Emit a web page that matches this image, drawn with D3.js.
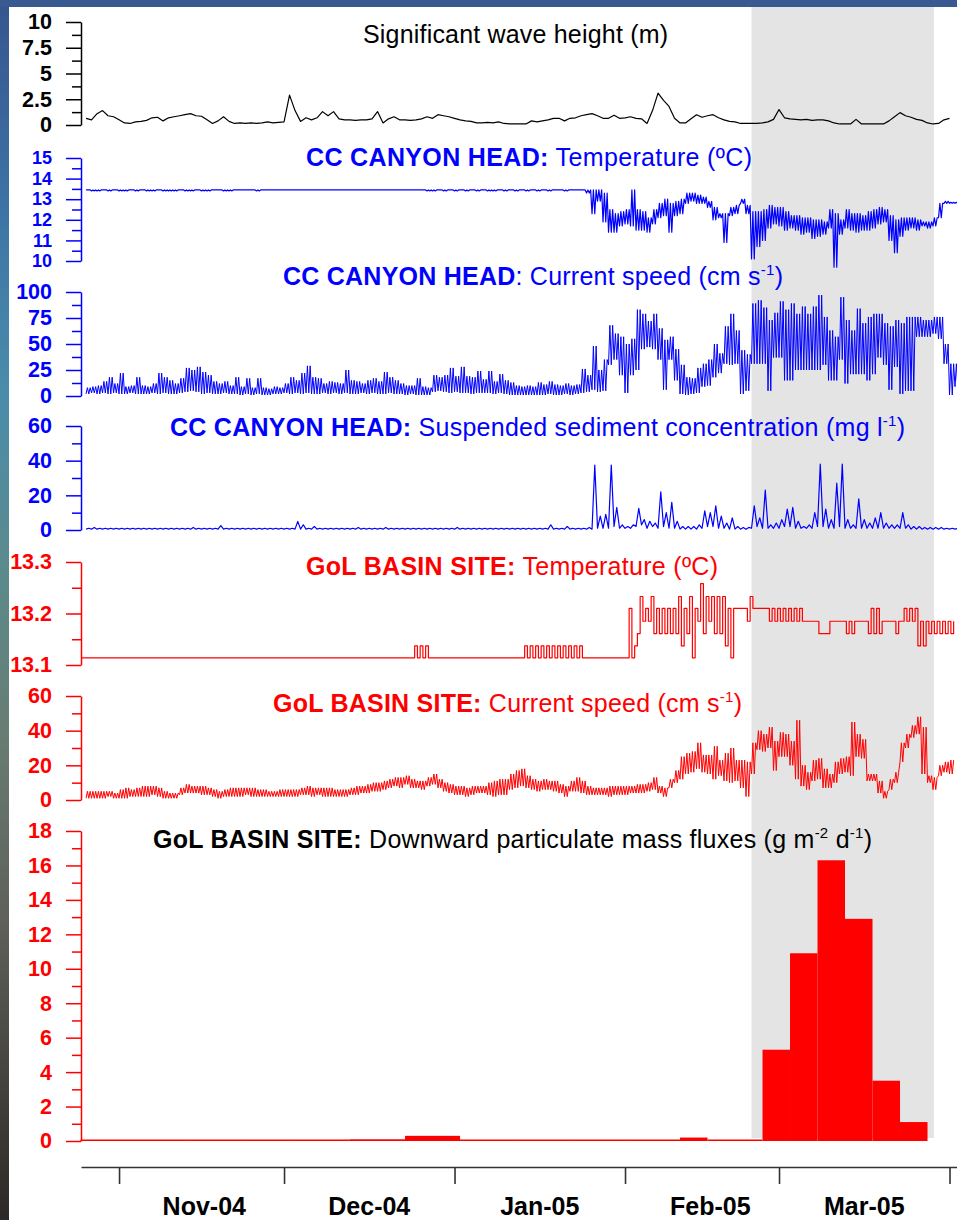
<!DOCTYPE html>
<html><head><meta charset="utf-8">
<script src="https://cdn.jsdelivr.net/npm/d3@7"></script>
<style>html,body{margin:0;padding:0;background:#fff;}svg{display:block;}</style>
</head><body>
<svg id="chart" width="957" height="1220"></svg>
<script>
// ---------------- DATA ----------------
const seriesStart = "2004-10-26T00:00:00Z";     // first daily sample
const golTempStart = "2004-10-25T06:00:00Z";

// Significant wave height (m), daily
const waveHeight = [0.65,0.5,1.1,1.4,0.9,0.8,
0.5,0.2,0.15,0.3,0.35,0.45,0.7,0.75,0.4,0.7,
0.8,0.9,1.0,1.1,0.9,0.85,0.5,0.15,0.4,0.8,
0.35,0.15,0.2,0.15,0.2,0.15,0.2,0.3,0.2,0.25,
0.3,2.9,1.4,0.35,0.7,0.5,0.7,1.3,0.9,1.3,
0.6,0.5,0.5,0.45,0.5,0.5,0.6,1.3,0.2,0.6,
0.8,0.5,0.5,0.45,0.5,0.6,0.8,0.65,1.0,0.9,
0.8,0.65,0.5,0.4,0.35,0.2,0.2,0.25,0.2,0.3,
0.15,0.1,0.1,0.1,0.1,0.4,0.3,0.4,0.5,0.65,
0.65,0.4,0.65,0.7,0.9,1.0,1.1,0.9,0.65,0.65,
0.95,0.65,0.7,0.8,0.65,0.6,0.15,1.4,3.1,2.4,
1.8,0.65,0.2,0.2,0.6,1.0,0.75,0.9,1.0,0.7,
0.5,0.35,0.3,0.15,0.15,0.15,0.15,0.2,0.3,0.55,
1.5,0.7,0.6,0.55,0.5,0.55,0.45,0.5,0.5,0.4,
0.2,0.1,0.1,0.1,0.55,0.1,0.1,0.1,0.1,0.1,
0.4,0.8,1.2,0.9,0.75,0.55,0.45,0.2,0.1,0.15,
0.5,0.65];

// CC canyon head temperature (ºC), daily low / high
const ccTempLo = [13.45,13.4,13.4,13.45,13.4,13.45,13.4,13.4,13.45,13.4,
13.45,13.4,13.4,13.45,13.4,13.4,13.4,13.45,13.4,13.4,
13.45,13.4,13.4,13.45,13.45,13.4,13.4,13.45,13.45,13.45,
13.45,13.4,13.45,13.45,13.45,13.45,13.45,13.45,13.45,13.45,
13.45,13.45,13.45,13.45,13.45,13.45,13.45,13.45,13.45,13.45,
13.45,13.45,13.45,13.45,13.45,13.45,13.45,13.45,13.45,13.45,
13.45,13.45,13.4,13.4,13.45,13.4,13.45,13.4,13.45,13.4,
13.45,13.4,13.45,13.4,13.4,13.45,13.4,13.45,13.4,13.45,
13.4,13.45,13.4,13.45,13.4,13.45,13.45,13.4,13.45,13.45,
13.45,
13.3,12.3,12.9,11.9,11.4,11.4,11.7,11.8,11.7,11.5,
11.5,11.4,11.8,12.1,12.2,11.4,12.2,12.3,12.8,12.9,
12.8,12.8,12.6,12.0,12.1,10.9,12.2,12.3,12.8,12.3,
10.1,10.7,11.0,11.6,11.8,11.7,11.5,11.6,11.5,11.3,
11.4,11.1,11.2,11.3,11.6,9.7,11.3,11.6,11.5,11.4,
11.5,11.5,11.6,11.8,11.9,11.0,10.4,11.2,11.5,11.6,
11.5,11.7,11.6,11.7,12.1,12.8,12.8,12.8];
const ccTempHi = [13.45,13.45,13.45,13.45,13.45,13.45,13.45,13.45,13.45,13.45,
13.45,13.45,13.45,13.45,13.45,13.45,13.45,13.45,13.45,13.45,
13.45,13.45,13.45,13.45,13.45,13.45,13.45,13.45,13.45,13.45,
13.45,13.45,13.45,13.45,13.45,13.45,13.45,13.45,13.45,13.45,
13.45,13.45,13.45,13.45,13.45,13.45,13.45,13.45,13.45,13.45,
13.45,13.45,13.45,13.45,13.45,13.45,13.45,13.45,13.45,13.45,
13.45,13.45,13.45,13.45,13.45,13.45,13.45,13.45,13.45,13.45,
13.45,13.45,13.45,13.45,13.45,13.45,13.45,13.45,13.45,13.45,
13.45,13.45,13.45,13.45,13.45,13.45,13.45,13.45,13.45,13.45,
13.45,
13.45,13.45,13.45,13.3,12.5,12.3,12.4,12.5,13.45,12.5,
12.4,12.1,12.5,12.8,13.0,12.8,12.9,13.0,13.3,13.3,
13.2,13.1,12.9,12.6,12.3,12.3,12.6,12.7,13.0,12.7,
12.4,12.4,12.5,12.7,12.6,12.6,12.4,12.2,12.2,12.1,
12.1,12.0,12.0,11.9,12.5,12.3,12.0,12.5,12.3,12.3,
12.2,12.4,12.5,12.6,12.5,12.2,12.0,12.1,12.1,12.1,
12.0,11.9,11.9,12.1,12.8,12.9,12.85,12.85];

// CC canyon head current speed (cm/s), daily low / high
const ccSpeedLo = [2,3,2,3,2,3,2,2,3,2,
2,2,3,2,3,2,2,3,4,5,
4,2,3,2,2,3,2,2,1,2,
1,2,1,1,2,2,3,2,3,2,
3,2,2,3,2,3,2,3,2,2,
3,2,3,2,2,3,2,2,1,2,
1,1,1,4,5,4,3,4,3,3,
2,3,3,3,2,3,2,1,1,1,
1,1,1,1,2,1,1,2,1,2,
3,4,6,4,5,30,35,20,3,20,
25,45,47,45,35,6,35,15,2,1,
2,3,9,10,18,22,31,30,31,2,
5,31,31,31,5,37,37,15,15,25,
25,25,25,25,30,15,15,35,12,21,
21,21,15,21,37,30,6,28,2,5,
5,57,57,57,60,55,31,1,9];
const ccSpeedHi = [8,9,10,14,18,12,22,9,10,18,
10,9,12,22,18,15,12,17,27,25,
28,23,20,14,12,14,10,18,9,17,
8,17,8,7,9,8,12,18,15,22,
29,18,17,12,14,13,12,25,15,14,
12,15,17,14,23,18,15,12,10,10,
17,9,8,20,18,20,27,19,28,19,
18,24,16,24,14,21,15,13,10,9,
10,9,13,11,14,11,10,12,10,11,
26,20,48,25,35,68,60,57,50,55,
83,79,72,79,65,54,57,45,30,18,
17,27,31,35,50,41,67,79,63,44,
40,89,92,85,73,80,91,83,89,79,
86,79,86,97,76,63,57,95,73,63,
84,70,76,79,79,70,67,73,70,76,
76,76,73,73,76,76,50,31,31];

// CC canyon head suspended sediment concentration (mg/l), daily low / high
const sscLo = [0.5,0.5,0.5,0.5,0.5,0.5,0.5,0.5,0.5,0.5,
0.5,0.5,0.5,0.5,0.5,0.5,0.5,0.5,0.5,0.5,
0.5,0.5,0.5,0.5,0.5,0.5,0.5,0.5,0.5,0.5,
0.5,0.5,0.5,0.5,0.5,0.5,0.5,0.5,0.5,0.5,
0.5,0.5,0.5,0.5,0.5,0.5,0.5,0.5,0.5,0.5,
0.5,0.5,0.5,0.5,0.5,0.5,0.5,0.5,0.5,0.5,
0.5,0.5,0.5,0.5,0.5,0.5,0.5,0.5,0.5,0.5,
0.5,0.5,0.5,0.5,0.5,0.5,0.5,0.5,0.5,0.5,
0.5,0.5,0.5,0.5,0.5,0.5,0.5,0.5,0.5,0.5,
0.5,
0.5,0.5,1,1,1,2,1,1,1,2,
3,1,2,1,2,1,1,0.5,0.5,0.5,
0.5,1,2,2,1,1,0.5,0.5,0.5,0.5,
1,2,1,1,1,1,2,2,1,1,
1,1,2,2,1,1,2,1,1,1,
1,1,1,1,1,1,1,1,1,0.5,
0.5,0.5,0.5,0.5,0.5,0.5,0.5,0.5];
const sscHi = [1,1.5,1,1,1,1,1,1,1,1,
1,1,1,1,1,1,1,1,1,1.5,
1,1,1,1,2.5,1,1,1,1,1,
1,1,1,1,1,1,1,1,5,3,
1,2,1,1,1,1,1,1,1,1.5,
1,1,1,1,1.5,1,1,1,1,1,
1,1,1,1,1,1,1,1.5,1,1,
1,1,1,1,1,1,1,1,1,1,
1,1,1,1,3,1,1,2,1,1,
1,
1.5,37.5,8,9,37.5,13,3,2,3,12.5,
6,5,4,22,10,16,5,2,2,2,
3,11,10,14,8,4,7,2,1.5,1.5,
14,7,23,3,4,6,12,13,5,2,
3,10,38,12,6,27,38,6,3,18,
6,4,7,10,4,3,3,10,3,2,
2,1.5,1.5,1.5,1.5,1,1,1];

// GoL basin site temperature (ºC), daily low / high
const golTempLo = [13.114,13.114,13.114,13.114,13.114,13.114,13.114,13.114,13.114,13.114,
13.114,13.114,13.114,13.114,13.114,13.114,13.114,13.114,13.114,13.114,
13.114,13.114,13.114,13.114,13.114,13.114,13.114,13.114,13.114,13.114,
13.114,13.114,13.114,13.114,13.114,13.114,13.114,13.114,13.114,13.114,
13.114,13.114,13.114,13.114,13.114,13.114,13.114,13.114,13.114,13.114,
13.114,13.114,13.114,13.114,13.114,13.114,13.114,13.114,13.114,13.114,
13.114,13.114,13.114,13.114,13.114,13.114,13.114,13.114,13.114,13.114,
13.114,13.114,13.114,13.114,13.114,13.114,13.114,13.114,13.114,13.114,
13.114,13.114,13.114,13.114,13.114,13.114,13.114,13.114,13.114,13.114,
13.114,13.114,13.114,13.114,13.114,13.114,13.114,13.114,13.114,
13.114,13.114,13.161,13.185,13.185,13.161,13.161,13.161,13.161,13.161,
13.137,13.161,13.114,13.185,13.161,13.185,13.161,13.161,13.137,13.114,
13.21,13.21,13.185,13.21,13.21,13.21,13.185,13.185,13.185,13.185,
13.185,13.185,13.185,13.185,13.185,13.161,13.161,13.185,13.185,13.185,
13.161,13.161,13.185,13.185,13.161,13.161,13.161,13.185,13.185,13.161,
13.185,13.185,13.185,13.137,13.137,13.161,13.161,13.161,13.161,13.161];
const golTempHi = [13.114,13.114,13.114,13.114,13.114,13.114,13.114,13.114,13.114,13.114,
13.114,13.114,13.114,13.114,13.114,13.114,13.114,13.114,13.114,13.114,
13.114,13.114,13.114,13.114,13.114,13.114,13.114,13.114,13.114,13.114,
13.114,13.114,13.114,13.114,13.114,13.114,13.114,13.114,13.114,13.114,
13.114,13.114,13.114,13.114,13.114,13.114,13.114,13.114,13.114,13.114,
13.114,13.114,13.114,13.114,13.114,13.114,13.114,13.114,13.114,13.114,
13.137,13.137,13.137,
13.114,13.114,13.114,13.114,13.114,13.114,13.114,13.114,13.114,13.114,
13.114,13.114,13.114,13.114,13.114,13.114,13.114,
13.137,13.137,13.137,13.137,13.137,13.137,13.137,13.137,13.137,13.137,13.137,
13.114,13.114,13.114,13.114,13.114,13.114,13.114,13.114,
13.21,13.137,13.233,13.21,13.233,13.21,13.21,13.21,13.21,13.233,
13.21,13.233,13.21,13.258,13.233,13.233,13.233,13.233,13.21,13.21,
13.21,13.21,13.233,13.21,13.21,13.21,13.21,13.21,13.21,13.21,
13.21,13.21,13.185,13.185,13.185,13.161,13.161,13.185,13.185,13.185,
13.185,13.185,13.185,13.185,13.21,13.21,13.185,13.185,13.185,13.185,
13.21,13.21,13.21,13.185,13.185,13.185,13.185,13.185,13.185,13.185];

// GoL basin site current speed (cm/s), daily low / high
const golSpeedLo = [1,1,1,1,2,1,1,1,2,2,
2,2,3,2,1,1,1,3,4,4,
4,3,3,2,1,2,2,2,2,3,
2,2,2,2,2,2,2,2,2,3,
3,2,3,2,2,2,2,2,3,3,
4,4,5,5,6,7,8,7,9,7,
7,6,8,9,7,5,4,3,3,2,
3,4,4,3,2,3,3,6,7,8,
7,6,5,6,6,5,4,2,5,5,
4,3,3,3,3,2,3,3,3,4,
4,4,5,6,4,2,7,10,12,15,
16,18,16,15,12,14,11,10,11,7,
2,15,29,28,30,17,25,25,20,12,
8,6,11,12,7,7,10,15,16,14,
25,24,11,11,4,1,6,10,22,30,
36,38,15,10,6,14,16,15];
const golSpeedHi = [5,5,5,5,5,4,6,7,6,7,
8,8,8,7,5,4,4,7,9,8,
8,8,7,6,5,6,7,7,7,7,
7,6,6,5,5,6,6,6,6,7,
8,7,7,7,7,6,6,6,7,8,
8,9,10,10,11,12,13,13,14,12,
11,11,13,15,12,10,9,8,8,7,
8,8,8,10,11,12,12,15,17,18,
14,12,11,12,11,11,9,8,11,13,
11,8,7,7,7,8,8,8,8,8,
9,9,10,13,8,7,12,17,25,27,
28,33,26,26,31,23,27,30,23,23,
22,33,40,38,42,34,39,38,34,46,
20,16,23,24,18,15,22,24,25,45,
38,35,15,15,11,5,12,16,33,38,
43,48,42,14,13,20,22,23];

// GoL basin site downward particulate mass fluxes (g m-2 d-1), sediment-trap cups
const fluxEdges = ["2004-10-25","2004-11-13","2004-11-23","2004-12-03","2004-12-13","2004-12-23",
"2005-01-02","2005-01-12","2005-01-22","2005-02-01","2005-02-11","2005-02-16","2005-02-26",
"2005-03-03","2005-03-08","2005-03-13","2005-03-18","2005-03-23","2005-03-28"];
const fluxValues = [0.02,0.02,0.03,0.03,0.1,0.3,0.02,0.02,0.02,0.02,0.2,0.08,5.3,10.9,16.3,12.9,3.5,1.1];

// shaded period
const shadeStart = "2005-02-24T00:00:00Z", shadeEnd = "2005-03-29T04:00:00Z";

// axis ticks
const waveTicks = [0,2.5,5,7.5,10], waveMinor = [1.25,3.75,6.25,8.75];
const ccTempTicks = [10,11,12,13,14,15], ccTempMinor = [10.5,11.5,12.5,13.5,14.5];
const ccSpeedTicks = [0,25,50,75,100], ccSpeedMinor = [12.5,37.5,62.5,87.5];
const sscTicks = [0,20,40,60], sscMinor = [10,30,50];
const golTempTicks = [13.1,13.2,13.3], golTempMinor = [13.15,13.25];
const golSpeedTicks = [0,20,40,60], golSpeedMinor = [10,30,50];
const fluxTicks = [0,2,4,6,8,10,12,14,16,18], fluxMinor = [1,3,5,7,9,11,13,15,17];
const monthTicks = ["2004-11-01","2004-12-01","2005-01-01","2005-02-01","2005-03-01","2005-04-01"];
const monthLabels = ["Nov-04","Dec-04","Jan-05","Feb-05","Mar-05"];
const monthLabelDates = ["2004-11-16T12:00:00Z","2004-12-16T12:00:00Z","2005-01-16T12:00:00Z","2005-02-16T12:00:00Z","2005-03-16T12:00:00Z"];

// titles: [text, bold, superscript]
const titleWave = [["Significant wave height (m)",0,0]];
const titleCcTemp = [["CC CANYON HEAD:",1,0],[" Temperature (ºC)",0,0]];
const titleCcSpeed = [["CC CANYON HEAD",1,0],[": Current speed (cm s",0,0],["-1",0,1],[")",0,0]];
const titleSsc = [["CC CANYON HEAD:",1,0],[" Suspended sediment concentration (mg l",0,0],["-1",0,1],[")",0,0]];
const titleGolTemp = [["GoL BASIN SITE:",1,0],[" Temperature (ºC)",0,0]];
const titleGolSpeed = [["GoL BASIN SITE:",1,0],[" Current speed (cm s",0,0],["-1",0,1],[")",0,0]];
const titleFlux = [["GoL BASIN SITE:",1,0],[" Downward particulate mass fluxes (g m",0,0],["-2",0,1],[" d",0,0],["-1",0,1],[")",0,0]];

// ---------------- DRAWING ----------------
const W = 957, H = 1220, DAY = 86400000;
const FONT = "'Liberation Sans', Arial, Helvetica, sans-serif";
const BLUE = "#0000ff", RED = "#ff0000", BLACK = "#000000";
const svg = d3.select("#chart");

// slide background
const defs = svg.append("defs");
const grad = defs.append("linearGradient").attr("id","slide").attr("x1",0).attr("y1",0).attr("x2",0).attr("y2",1);
[[0,"#36558f"],[0.18,"#3e75a6"],[0.32,"#4a8caa"],[0.47,"#5b8a8c"],[0.6,"#687d73"],[0.76,"#5e5f58"],[1,"#2d2926"]]
  .forEach(s => grad.append("stop").attr("offset",s[0]).attr("stop-color",s[1]));
svg.append("rect").attr("width",W).attr("height",H).attr("fill","url(#slide)");
svg.append("rect").attr("width",W).attr("height",7).attr("fill","#385a91");
svg.append("rect").attr("x",9).attr("y",7).attr("width",W-9).attr("height",H-7).attr("fill","#ffffff");

const x = d3.scaleUtc()
  .domain([new Date("2004-10-25T02:00:00Z"), new Date("2005-04-02T08:40:00Z")])
  .range([81, 957]);

// shaded band
svg.append("rect")
  .attr("x", x(Date.parse(shadeStart)))
  .attr("width", x(Date.parse(shadeEnd)) - x(Date.parse(shadeStart)))
  .attr("y", 7).attr("height", 1131).attr("fill", "#e4e4e4");

// envelope trace: within each day the signal swings k times between the day's low and high
function zigzag(start, lo, hi, k){
  k = k || 1;
  const t0 = Date.parse(start), pts = [];
  lo.forEach((v,i) => {
    const h = hi[i] !== undefined ? hi[i] : v;
    for (let j = 0; j < k; j++){
      pts.push([t0 + i*DAY + (j/k)*DAY, v]);
      pts.push([t0 + i*DAY + ((j+0.5)/k)*DAY, h]);
    }
  });
  return pts;
}
function daily(start, vals){
  const t0 = Date.parse(start);
  return vals.map((v,i) => [t0 + i*DAY, v]);
}

function drawYAxis(y, ticks, minor, color, fs){
  const gm = svg.append("g").attr("transform","translate(81,0)")
    .call(d3.axisLeft(y).tickValues(minor).tickSize(9).tickFormat(() => "").tickSizeOuter(0));
  gm.select(".domain").remove();
  gm.selectAll(".tick line").attr("stroke",color).attr("stroke-width",1.5);
  const g = svg.append("g").attr("transform","translate(81,0)")
    .call(d3.axisLeft(y).tickValues(ticks).tickSize(15).tickPadding(14).tickFormat(d => String(d)).tickSizeOuter(0));
  g.select(".domain").attr("stroke",color).attr("stroke-width",1.5);
  g.selectAll(".tick line").attr("stroke",color).attr("stroke-width",1.5);
  g.selectAll(".tick text").attr("fill",color)
    .style("font-family",FONT).style("font-size",(fs || 21.5) + "px").style("font-weight","bold");
}

function drawTitle(parts, x0, base, target, color){
  const t = svg.append("text").attr("x",x0).attr("y",base).attr("fill",color)
    .style("font-family",FONT).style("font-size","25px");
  let raised = false;
  parts.forEach(p => {
    const ts = t.append("tspan").text(p[0]);
    if (p[1]) ts.attr("font-weight","bold");
    if (p[2]) { ts.attr("font-size","15px").attr("dy",-10); raised = true; }
    else if (raised) { ts.attr("dy",10); raised = false; }
  });
  const n = t.text().length;
  const w = t.node().getComputedTextLength();
  t.style("letter-spacing", ((target - w) / (n - 1)) + "px");
}

function drawLine(pts, y, color, width, curve){
  svg.append("path").datum(pts)
    .attr("fill","none").attr("stroke",color).attr("stroke-width",width)
    .attr("stroke-linejoin","round")
    .attr("d", d3.line().x(p => x(p[0])).y(p => y(p[1])).curve(curve || d3.curveLinear));
}

// panel 1: wave height
const yWave = d3.scaleLinear().domain([0,10]).range([125,22]);
drawYAxis(yWave, waveTicks, waveMinor, BLACK);
drawLine(daily(seriesStart, waveHeight), yWave, BLACK, 1.2);
drawTitle(titleWave, 363, 42.5, 305, BLACK);

// panel 2: CC temperature
const yCcT = d3.scaleLinear().domain([10,15]).range([261,158]);
drawYAxis(yCcT, ccTempTicks, ccTempMinor, BLUE, 18);
drawLine(zigzag(seriesStart, ccTempLo, ccTempHi, 2), yCcT, BLUE, 1.2);
drawTitle(titleCcTemp, 306, 166, 446, BLUE);

// panel 3: CC current speed
const yCcS = d3.scaleLinear().domain([0,100]).range([396,292]);
drawYAxis(yCcS, ccSpeedTicks, ccSpeedMinor, BLUE);
drawLine(zigzag(seriesStart, ccSpeedLo, ccSpeedHi, 2), yCcS, BLUE, 1.0);
drawTitle(titleCcSpeed, 283, 285, 500, BLUE);

// panel 4: SSC
const ySsc = d3.scaleLinear().domain([0,60]).range([530,426]);
drawYAxis(ySsc, sscTicks, sscMinor, BLUE);
drawLine(zigzag(seriesStart, sscLo, sscHi, 1), ySsc, BLUE, 1.2);
drawTitle(titleSsc, 170, 436, 735, BLUE);

// panel 5: GoL temperature
const yGT = d3.scaleLinear().domain([13.1,13.3]).range([665,562]);
drawYAxis(yGT, golTempTicks, golTempMinor, RED);
drawLine(zigzag(golTempStart, golTempLo, golTempHi, 1), yGT, RED, 1.2, d3.curveStepAfter);
drawTitle(titleGolTemp, 306, 575, 412, RED);

// panel 6: GoL current speed
const yGS = d3.scaleLinear().domain([0,60]).range([800,696]);
drawYAxis(yGS, golSpeedTicks, golSpeedMinor, RED);
drawLine(zigzag(seriesStart, golSpeedLo, golSpeedHi, 2), yGS, RED, 1.0);
drawTitle(titleGolSpeed, 273, 712, 469, RED);

// panel 7: fluxes
const yF = d3.scaleLinear().domain([0,18]).range([1141,831]);
drawYAxis(yF, fluxTicks, fluxMinor, RED);
svg.append("g").selectAll("rect").data(fluxValues).join("rect")
  .attr("x", (v,i) => x(Date.parse(fluxEdges[i])))
  .attr("width", (v,i) => x(Date.parse(fluxEdges[i+1])) - x(Date.parse(fluxEdges[i])))
  .attr("y", v => Math.min(yF(v), yF(0) - 1.5))
  .attr("height", v => yF(0) - Math.min(yF(v), yF(0) - 1.5))
  .attr("fill", RED);
drawTitle(titleFlux, 153, 848, 719, BLACK);

// x axis
const xg = svg.append("g").attr("transform","translate(0,1167)")
  .call(d3.axisBottom(x).tickValues(monthTicks.map(d => new Date(d + "T00:00:00Z"))).tickSize(17).tickFormat(() => "").tickSizeOuter(0));
xg.select(".domain").attr("stroke","#333").attr("stroke-width",1.6);
xg.selectAll(".tick line").attr("stroke","#333").attr("stroke-width",1.6);
svg.append("g").selectAll("text").data(monthLabels).join("text")
  .attr("x", (d,i) => x(Date.parse(monthLabelDates[i])))
  .attr("y", 1215)
  .attr("text-anchor","middle")
  .style("font-family",FONT).style("font-size","25px").style("font-weight","bold")
  .attr("fill","#000")
  .text(d => d);
</script>
</body></html>
